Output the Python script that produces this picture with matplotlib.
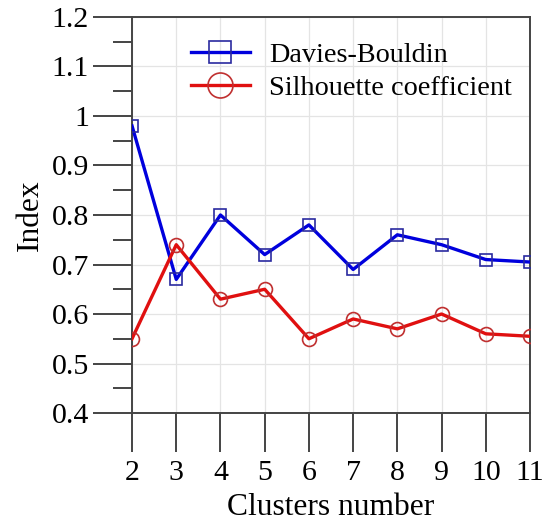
import matplotlib.pyplot as plt
from matplotlib.ticker import MultipleLocator, FuncFormatter

clusters = [2, 3, 4, 5, 6, 7, 8, 9, 10, 11]
davies_bouldin = [0.98, 0.67, 0.80, 0.72, 0.78, 0.69, 0.76, 0.74, 0.71, 0.705]
silhouette = [0.55, 0.74, 0.63, 0.65, 0.55, 0.59, 0.57, 0.60, 0.56, 0.555]

plt.rcParams['font.family'] = ['Liberation Serif', 'DejaVu Serif']

fig = plt.figure(figsize=(5.46, 5.24), dpi=100)
ax = fig.add_axes([0.2418, 0.2118, 0.7289, 0.7558])

ax.plot(clusters, davies_bouldin, color='#0000dd', lw=2.4, marker='s', ms=9,
        mfc='none', mec='#2a2aa0', mew=1.2, label='Davies-Bouldin', zorder=3)
ax.plot(clusters, silhouette, color='#e01010', lw=2.4, marker='o', ms=10,
        mfc='none', mec='#c03030', mew=1.2, label='Silhouette coefficient', zorder=3)

ax.set_xlim(2, 11)
ax.set_ylim(0.4, 1.2)
ax.xaxis.set_major_locator(MultipleLocator(1))
ax.yaxis.set_major_locator(MultipleLocator(0.1))
ax.yaxis.set_minor_locator(MultipleLocator(0.05))
ax.yaxis.set_major_formatter(FuncFormatter(lambda v, p: f'{v:.1f}' if abs(v - round(v)) > 1e-9 else f'{int(round(v))}'))

ax.grid(True, which='major', color='#e4e4e4', lw=0.9)
ax.set_axisbelow(True)

for s in ax.spines.values():
    s.set_color('#444444')
    s.set_linewidth(1.4)

ax.tick_params(axis='x', which='major', direction='out', length=28, width=1.4,
               color='#444444', labelsize=21.5, pad=6)
ax.tick_params(axis='y', which='major', direction='out', length=28, width=1.4,
               color='#444444', labelsize=21.5, pad=3)
ax.tick_params(axis='y', which='minor', direction='out', length=14, width=1.4,
               color='#444444')

ax.set_xlabel('Clusters number', fontsize=22.7, labelpad=5)
ax.set_ylabel('Index', fontsize=22.7, labelpad=5)

leg = ax.legend(loc='upper left', bbox_to_anchor=(0.085, 1.0), frameon=False,
                fontsize=20.3, handlelength=2.07, markerscale=1.8,
                labelspacing=0.25, handletextpad=0.7)

fig.savefig('out.png', dpi=100)
